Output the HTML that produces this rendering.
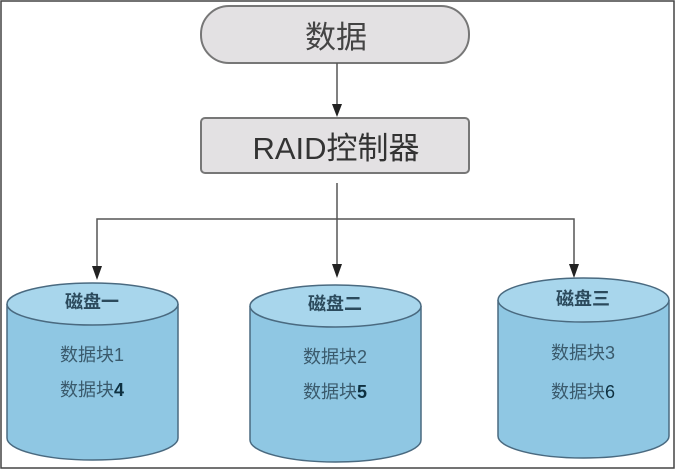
<!DOCTYPE html>
<html><head><meta charset="utf-8"><style>
html,body{margin:0;padding:0;background:#fff;}
svg{display:block;}
text{font-family:"Liberation Sans","Noto Sans CJK SC",sans-serif;}
</style></head><body>
<svg width="676" height="470" viewBox="0 0 676 470">
<rect x="1" y="1" width="673" height="467" fill="#fff" stroke="#444" stroke-width="1.5"/>
<rect x="201" y="6" width="268" height="57" rx="28" fill="#e3e1e3" stroke="#777" stroke-width="2"/>
<text x="336" y="48" font-size="31" text-anchor="middle" fill="#444">数据</text>
<line x1="337" y1="63" x2="337" y2="108" stroke="#555" stroke-width="1.5"/>
<path d="M332,104 L342,104 L337,117 Z" fill="#222"/>
<rect x="201" y="118" width="268" height="55" rx="4" fill="#e3e1e3" stroke="#777" stroke-width="2"/>
<text x="336" y="159" font-size="31" text-anchor="middle" fill="#333">RAID控制器</text>
<line x1="337" y1="183" x2="337" y2="268" stroke="#555" stroke-width="1.5"/>
<path d="M332,264 L342,264 L337,278 Z" fill="#222"/>
<polyline points="97,270 97,219 574,219 574,268" fill="none" stroke="#555" stroke-width="1.5"/>
<path d="M92,266 L102,266 L97,280 Z" fill="#222"/>
<path d="M569,264 L579,264 L574,278 Z" fill="#222"/>
<g>
<path d="M7,304 L7,438 A85.5,22 0 0 0 178,438 L178,304" fill="#8fc7e3" stroke="#4a6a80" stroke-width="1.5"/>
<ellipse cx="92.5" cy="304" rx="85.5" ry="21" fill="#a8d6ec" stroke="#4a6a80" stroke-width="1.5"/>
<text x="92" y="308" font-size="18" text-anchor="middle" fill="#2b4a5c" font-weight="bold">磁盘一</text>
<text x="92" y="361" font-size="18" text-anchor="middle" fill="#3a5a6c">数据块1</text>
<text x="92" y="396" font-size="18" text-anchor="middle" fill="#3a5a6c">数据块<tspan fill="#0e3040" font-weight="bold">4</tspan></text>
</g>
<g>
<path d="M250,306 L250,440 A85.5,22 0 0 0 421,440 L421,306" fill="#8fc7e3" stroke="#4a6a80" stroke-width="1.5"/>
<ellipse cx="335.5" cy="306" rx="85.5" ry="21" fill="#a8d6ec" stroke="#4a6a80" stroke-width="1.5"/>
<text x="335" y="310" font-size="18" text-anchor="middle" fill="#2b4a5c" font-weight="bold">磁盘二</text>
<text x="335" y="363" font-size="18" text-anchor="middle" fill="#3a5a6c">数据块2</text>
<text x="335" y="398" font-size="18" text-anchor="middle" fill="#3a5a6c">数据块<tspan fill="#0e3040" font-weight="bold">5</tspan></text>
</g>
<g>
<path d="M498,300 L498,436 A85.5,22 0 0 0 669,436 L669,300" fill="#8fc7e3" stroke="#4a6a80" stroke-width="1.5"/>
<ellipse cx="583.5" cy="300" rx="85.5" ry="22" fill="#a8d6ec" stroke="#4a6a80" stroke-width="1.5"/>
<text x="583" y="305" font-size="18" text-anchor="middle" fill="#2b4a5c" font-weight="bold">磁盘三</text>
<text x="583" y="359" font-size="18" text-anchor="middle" fill="#3a5a6c">数据块3</text>
<text x="583" y="398" font-size="18" text-anchor="middle" fill="#3a5a6c">数据块<tspan fill="#0e3040">6</tspan></text>
</g>
</svg>
</body></html>
